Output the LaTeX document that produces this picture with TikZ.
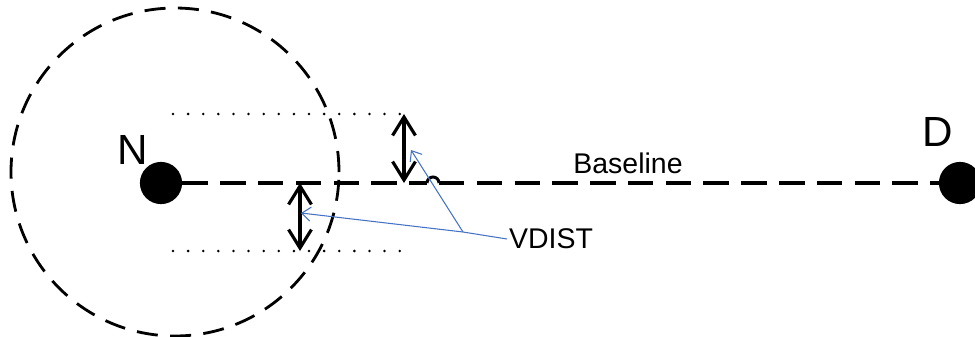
\documentclass[tikz,border=0pt]{standalone}
\usepackage{fontspec}
\setmainfont{Liberation Sans}
\usetikzlibrary{arrows.meta}
\definecolor{linkblue}{RGB}{68,114,196}

\begin{document}
\begin{tikzpicture}[x=0.2mm, y=0.2mm,
		>={Straight Barb[length=10.5pt, width=13pt, line width=1.8pt]},   %Pfeilspitzen
		dot/.style={circle, fill=black, minimum size=24pt, inner sep=0pt},
		ring/.style={line width=1.6pt, dash pattern=on 12pt off 7pt},
		base/.style={line width=1.9pt, dash pattern=on 14.5pt off 7pt},
		guide/.style={line width=1.6pt, line cap=round, dash pattern=on 0pt off 8.6pt},
		measure/.style={<->, line width=1.8pt},
		pointer/.style={linkblue, line width=0.6pt, -{Straight Barb[length=5pt, width=8pt]}},
		lbl/.style={font=\fontsize{16.2}{18}\selectfont, inner sep=1pt}]
		\useasboundingbox (0,0) rectangle (975,336);
		%Suchradius um N
		\draw[ring] (175,164) circle (164);
		%Knoten
		\node[dot] (N) at (161,153) {};
		\node[dot] (D) at (960,153) {};
		\node[font=\fontsize{24}{27}\selectfont] (Nlabel) at (133,186) {N};
		\node[font=\fontsize{24}{27}\selectfont] (Dlabel) at (938,204) {D};
		%Basislinie mit Sprung
		\coordinate (hopL) at (427,153);
		\coordinate (hopR) at (439,153);
		\draw[base] (N.east) -- (hopL);
		\draw[line width=1.7pt] (hopL) arc[start angle=180, end angle=0, radius=6];
		\draw[base] (hopR) -- (D.west);
		\node[lbl] (baseline) at (628,173) {Baseline};
		%Hilfslinien oben und unten
		\coordinate (topL) at (173,222);
		\coordinate (topR) at (400,222);
		\coordinate (botL) at (173,85);
		\coordinate (botR) at (400,85);
		\draw[guide] (topL) -- (topR);
		\draw[guide] (botL) -- (botR);
		%Abstaende
		\coordinate (upA) at (404,222);
		\coordinate (upB) at (404,153);
		\coordinate (loA) at (300,153);
		\coordinate (loB) at (300,85);
		\draw[measure] (upA) -- (upB);
		\draw[measure] (loA) -- (loB);
		%Beschriftung VDIST
		\node[lbl, anchor=west] (vdist) at (507,97) {VDIST};
		\coordinate (fork) at (463,104);
		\coordinate (upTip) at (411,186);
		\coordinate (loTip) at (301,123);
		\draw[pointer] (vdist.west) -- (fork) -- (loTip);
		\draw[pointer] (fork) -- (upTip);
	\end{tikzpicture}
\end{document}
